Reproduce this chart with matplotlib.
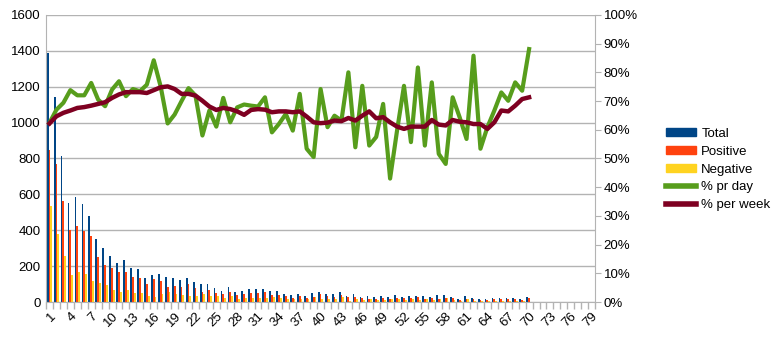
#! /usr/bin/env python3
# coding: utf-8

"""
Cas par jour : barres (total / positifs / négatifs) et pourcentages
"""

import matplotlib
matplotlib.use('Agg')
import matplotlib.pyplot as plt
from matplotlib.lines import Line2D
from matplotlib.patches import Patch

plt.rcParams['font.family'] = ['Liberation Sans', 'DejaVu Sans']

########################################################################################################################
#           Données                                                                                                    #
########################################################################################################################
n_cat = 79
jours = list(range(1, 71))

total = [1385, 1140, 815, 551, 585, 546, 479, 351, 302, 257,
         218, 235, 190, 185, 135, 152, 157, 141, 135, 124,
         135, 113, 102, 102, 80, 63, 85, 57, 63, 74,
         72, 72, 61, 61, 45, 39, 45, 33, 50, 56,
         45, 45, 56, 33, 45, 28, 33, 28, 33, 28,
         39, 28, 33, 33, 33, 28, 39, 39, 28, 17,
         33, 22, 17, 17, 22, 22, 22, 22, 17, 28]

positive = [850, 768, 564, 401, 424, 398, 368, 253, 207, 190,
            168, 168, 141, 135, 102, 130, 118, 85, 91, 85,
            102, 80, 57, 69, 52, 46, 57, 41, 46, 52,
            51, 57, 39, 39, 33, 22, 33, 22, 28, 45,
            33, 28, 39, 28, 28, 22, 17, 17, 22, 17,
            22, 22, 22, 28, 17, 22, 17, 22, 22, 11,
            17, 17, 11, 11, 17, 17, 17, 17, 11, 22]

negative = [535, 379, 257, 152, 168, 157, 118, 107, 96, 68,
            57, 68, 52, 52, 35, 30, 46, 57, 46, 41,
            35, 35, 46, 35, 35, 24, 35, 19, 24, 24,
            22, 22, 28, 22, 17, 17, 17, 17, 28, 17,
            17, 17, 28, 6, 17, 11, 17, 11, 11, 17,
            17, 11, 17, 11, 17, 11, 17, 22, 11, 6,
            17, 6, 6, 6, 6, 6, 6, 6, 6, 0]

pct_jour = [62.4, 67.0, 69.4, 73.8, 72.0, 72.0, 76.3, 70.5, 68.2, 74.0,
            76.9, 71.7, 74.2, 73.4, 75.7, 84.2, 75.0, 62.2, 65.3, 70.0,
            74.5, 71.9, 58.0, 66.7, 61.1, 71.1, 62.6, 67.8, 68.8, 68.4,
            68.1, 71.3, 59.1, 62.0, 65.5, 59.7, 72.5, 53.4, 50.5, 74.2,
            60.9, 64.9, 63.2, 80.0, 53.9, 75.3, 54.5, 57.5, 69.0, 43.0,
            59.7, 75.3, 55.7, 81.7, 54.5, 76.5, 51.6, 48.1, 71.3, 64.4,
            56.8, 85.8, 53.4, 60.9, 66.7, 73.0, 70.1, 76.5, 73.6, 88.1]

pct_semaine = [62.2, 64.7, 65.9, 66.7, 67.6, 67.9, 68.4, 69.0, 69.6, 71.1,
               72.3, 73.1, 73.1, 73.1, 72.8, 73.8, 74.8, 75.1, 74.2, 72.5,
               72.5, 71.9, 70.1, 68.1, 66.9, 67.6, 67.2, 66.4, 65.2, 66.9,
               67.2, 67.0, 66.1, 66.4, 66.4, 66.1, 66.4, 64.6, 62.6, 62.3,
               62.5, 63.2, 63.0, 64.1, 63.2, 64.9, 66.4, 64.0, 64.4, 62.6,
               61.1, 60.3, 61.1, 61.1, 61.1, 63.4, 61.8, 61.5, 63.4, 62.8,
               62.6, 62.0, 62.0, 60.3, 62.6, 66.7, 66.4, 68.4, 70.7, 71.3]

# couleurs (palette LibreOffice)
c_total, c_pos, c_neg = '#004586', '#ff420e', '#ffd320'
c_jour, c_semaine = '#579d1c', '#7e0021'
c_grille = '#b3b3b3'

########################################################################################################################
#           Graphique                                                                                                  #
########################################################################################################################
fig = plt.figure(figsize=(7.8, 3.39), dpi=100)
ax = fig.add_axes([0.059, 0.109, 0.704, 0.847])

w = 0.26
ax.bar([j - w for j in jours], total, width=w, color=c_total, zorder=2)
ax.bar(jours, positive, width=w, color=c_pos, zorder=2)
ax.bar([j + w for j in jours], negative, width=w, color=c_neg, zorder=2)

ax.set_xlim(0.5, n_cat + 0.5)
ax.set_ylim(0, 1600)
ax.set_yticks(range(0, 1601, 200))
ax.yaxis.grid(True, color=c_grille, lw=1)
ax.set_axisbelow(True)
ax.tick_params(axis='y', length=0, labelsize=9.5, pad=4)

ax.set_xticks(range(1, n_cat + 1, 3))
ax.set_xticklabels([str(i) for i in range(1, n_cat + 1, 3)], rotation=45,
                   ha='right', rotation_mode='anchor', fontsize=9.5)
ax.set_xticks([i + 0.5 for i in range(0, n_cat + 1)], minor=True)
ax.tick_params(axis='x', which='major', length=0, pad=6)
ax.tick_params(axis='x', which='minor', length=5, color=c_grille, width=1)

for cote in ['top', 'right']:
    ax.spines[cote].set_visible(False)
for cote in ['left', 'bottom']:
    ax.spines[cote].set_color(c_grille)

# axe secondaire en pourcentage
ax2 = ax.twinx()
ax2.plot(jours, pct_jour, color=c_jour, lw=3, zorder=3)
ax2.plot(jours, pct_semaine, color=c_semaine, lw=3.2, zorder=4)
ax2.set_ylim(0, 100)
ax2.set_yticks(range(0, 101, 10))
ax2.set_yticklabels(['%d%%' % v for v in range(0, 101, 10)])
ax2.tick_params(axis='y', length=4, color=c_grille, labelsize=9.5, pad=2)
for cote in ['top', 'left', 'bottom']:
    ax2.spines[cote].set_visible(False)
ax2.spines['right'].set_color(c_grille)

poignees = [Patch(color=c_total), Patch(color=c_pos), Patch(color=c_neg),
            Line2D([], [], color=c_jour, lw=4), Line2D([], [], color=c_semaine, lw=4)]
etiquettes = ['Total', 'Positive', 'Negative', '% pr day', '% per week']
fig.legend(poignees, etiquettes, loc='center left', bbox_to_anchor=(0.845, 0.5),
           frameon=False, fontsize=9.5, handlelength=2.3, handleheight=0.6,
           labelspacing=0.45, handletextpad=0.4, borderpad=0)

plt.savefig('out.png', dpi=100)
